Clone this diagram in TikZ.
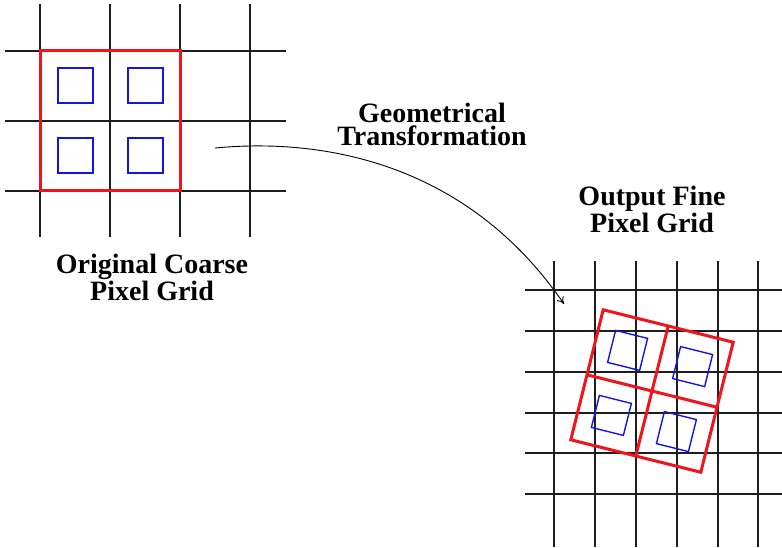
\documentclass[tikz,border=0pt]{standalone}
\usepackage{fontspec}
\setmainfont{Liberation Serif}
\usetikzlibrary{arrows.meta}
\definecolor{gridline}{RGB}{30,30,30}
\definecolor{pixred}{RGB}{240,20,30}
\definecolor{pixblue}{RGB}{20,20,230}
\tikzset{
  gridrule/.style={draw=gridline, line width=1.1pt},
  coarsepix/.style={draw=pixred, line width=3pt},
  finepix/.style={draw=pixblue, line width=1.4pt},
  caption/.style={align=center, font=\bfseries\fontsize{28}{#1}\selectfont, inner sep=0pt},
  caption/.default=24,
}
\begin{document}
\begin{tikzpicture}[x=1pt, y=1pt]
  \useasboundingbox (0,0) rectangle (782,547);

  % coarse input grid
  \foreach \gx in {40,110,180,250} \draw[gridrule] (\gx,543) -- (\gx,310);
  \foreach \gy in {496,426,356} \draw[gridrule] (5,\gy) -- (286,\gy);
  \draw[coarsepix] (40,356) rectangle (180,496);
  \foreach \bx in {58,128} \foreach \by in {444,374}
    \draw[finepix] (\bx,\by) rectangle ++(35,35);

  % fine output grid
  \foreach \gx in {554,595,636,677,718,758} \draw[gridrule] (\gx,286) -- (\gx,0);
  \foreach \gy in {257,216,175,134,94,53} \draw[gridrule] (525,\gy) -- (782,\gy);

  % transformed coarse pixels on the fine grid
  \begin{scope}[shift={(652,156)}, rotate=-14]
    \draw[coarsepix] (-67,-67) rectangle (67,67);
    \draw[coarsepix] (0,-67) -- (0,67);
    \draw[coarsepix] (-67,0) -- (67,0);
    \foreach \cx in {-33.5,33.5} \foreach \cy in {-33.5,33.5}
      \draw[finepix] (\cx-16.5,\cy-16.5) rectangle (\cx+16.5,\cy+16.5);
  \end{scope}

  % labels
  \node[caption=23] (xform) at (432,423) {Geometrical\\Transformation};
  \node[caption=27] (coarse) at (152,270) {Original Coarse\\Pixel Grid};
  \node[caption=25] (fine) at (652,337.5) {Output Fine\\Pixel Grid};

  % mapping arrow
  \coordinate (from) at (215,399);
  \coordinate (to) at (564,243);
  \draw[line width=0.9pt, -{To[length=7pt,width=8pt]}]
    (from) .. controls (330,410) and (470,380) .. (to);
\end{tikzpicture}
\end{document}
